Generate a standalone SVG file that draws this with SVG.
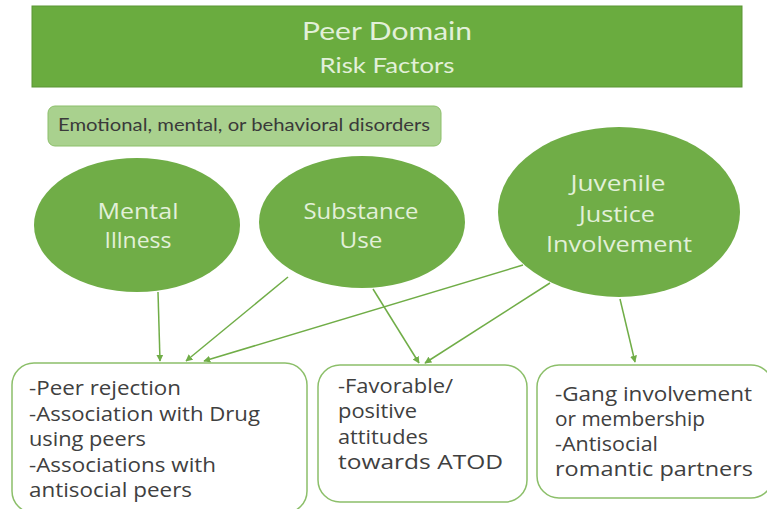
<svg xmlns="http://www.w3.org/2000/svg" width="767" height="509" viewBox="0 0 767 509">
<defs>
<marker id="ah" viewBox="0 0 10 10" refX="9" refY="5" markerWidth="7" markerHeight="7" orient="auto" markerUnits="userSpaceOnUse">
<path d="M0,0 L10,5 L0,10 z" fill="#70ad47"/>
</marker>
<style>
.hdr{fill:#e2f0d9;font-family:Lato,"Liberation Sans",sans-serif;text-anchor:middle}
.ell{fill:#70ad47}
.et{fill:#e2f0d9;font-family:"Open Sans","Noto Sans",sans-serif;font-size:22px;text-anchor:middle}
.box{fill:#ffffff;stroke:#8cbf6a;stroke-width:1.5}
.bt{fill:#404040;font-family:"Open Sans","Noto Sans",sans-serif;font-size:20px}
.conn line{stroke:#70ad47;stroke-width:1.5;marker-end:url(#ah)}
</style>
</defs>
<rect width="767" height="509" fill="#ffffff"/>
<g id="header">
<rect x="32" y="6" width="710" height="81" fill="#6aac3f" stroke="#5a9535" stroke-width="1"/>
<text class="hdr" x="387" y="40" font-size="25" textLength="170" lengthAdjust="spacingAndGlyphs">Peer Domain</text>
<text class="hdr" x="387" y="73" font-size="22" textLength="135" lengthAdjust="spacingAndGlyphs">Risk Factors</text>
</g>
<g id="disorders">
<rect x="48" y="106" width="393" height="40" rx="7" fill="#a9d18e" stroke="#8cbf6a" stroke-width="1"/>
<text x="58" y="131" font-family="Lato,'Liberation Sans',sans-serif" font-size="17" fill="#3a3a3a" textLength="372" lengthAdjust="spacingAndGlyphs">Emotional, mental, or behavioral disorders</text>
</g>
<g id="mental">
<ellipse class="ell" cx="137" cy="225" rx="103" ry="67"/>
<text class="et" x="138" y="219" textLength="81" lengthAdjust="spacingAndGlyphs">Mental</text>
<text class="et" x="138" y="248" textLength="67" lengthAdjust="spacingAndGlyphs">Illness</text>
</g>
<g id="substance">
<ellipse class="ell" cx="362" cy="222" rx="103" ry="66"/>
<text class="et" x="361" y="219" textLength="115" lengthAdjust="spacingAndGlyphs">Substance</text>
<text class="et" x="361" y="248" textLength="43" lengthAdjust="spacingAndGlyphs">Use</text>
</g>
<g id="juvenile">
<ellipse class="ell" cx="619" cy="212" rx="121" ry="85"/>
<text class="et" x="618" y="191" textLength="95" lengthAdjust="spacingAndGlyphs">Juvenile</text>
<text class="et" x="617" y="222" textLength="76" lengthAdjust="spacingAndGlyphs">Justice</text>
<text class="et" x="619" y="252" textLength="146" lengthAdjust="spacingAndGlyphs">Involvement</text>
</g>
<g class="conn" id="connectors">
<line x1="158" y1="292" x2="160" y2="361"/>
<line x1="288" y1="277" x2="186" y2="361"/>
<line x1="523" y1="265" x2="204" y2="361"/>
<line x1="373" y1="289" x2="419" y2="363"/>
<line x1="550" y1="283" x2="425" y2="363"/>
<line x1="620" y1="299" x2="635" y2="362"/>
</g>
<g id="box1">
<rect class="box" x="12" y="363" width="295" height="150" rx="22"/>
<text class="bt" x="29" y="395" textLength="152" lengthAdjust="spacingAndGlyphs">-Peer rejection</text>
<text class="bt" x="29" y="420.5" textLength="231" lengthAdjust="spacingAndGlyphs">-Association with Drug</text>
<text class="bt" x="29" y="446" textLength="117" lengthAdjust="spacingAndGlyphs">using peers</text>
<text class="bt" x="29" y="471.5" textLength="187" lengthAdjust="spacingAndGlyphs">-Associations with</text>
<text class="bt" x="29" y="497" textLength="163" lengthAdjust="spacingAndGlyphs">antisocial peers</text>
</g>
<g id="box2">
<rect class="box" x="318" y="365" width="209" height="137" rx="22"/>
<text class="bt" x="338" y="393" textLength="115" lengthAdjust="spacingAndGlyphs">-Favorable/</text>
<text class="bt" x="338" y="418" textLength="79" lengthAdjust="spacingAndGlyphs">positive</text>
<text class="bt" x="338" y="443.5" textLength="90" lengthAdjust="spacingAndGlyphs">attitudes</text>
<text class="bt" x="338" y="469" textLength="165" lengthAdjust="spacingAndGlyphs">towards ATOD</text>
</g>
<g id="box3">
<rect class="box" x="537" y="365" width="236" height="133" rx="22"/>
<text class="bt" x="555" y="401" textLength="197" lengthAdjust="spacingAndGlyphs">-Gang involvement</text>
<text class="bt" x="555" y="426" textLength="150" lengthAdjust="spacingAndGlyphs">or membership</text>
<text class="bt" x="555" y="451" textLength="103" lengthAdjust="spacingAndGlyphs">-Antisocial</text>
<text class="bt" x="555" y="476" textLength="198" lengthAdjust="spacingAndGlyphs">romantic partners</text>
</g>
</svg>
